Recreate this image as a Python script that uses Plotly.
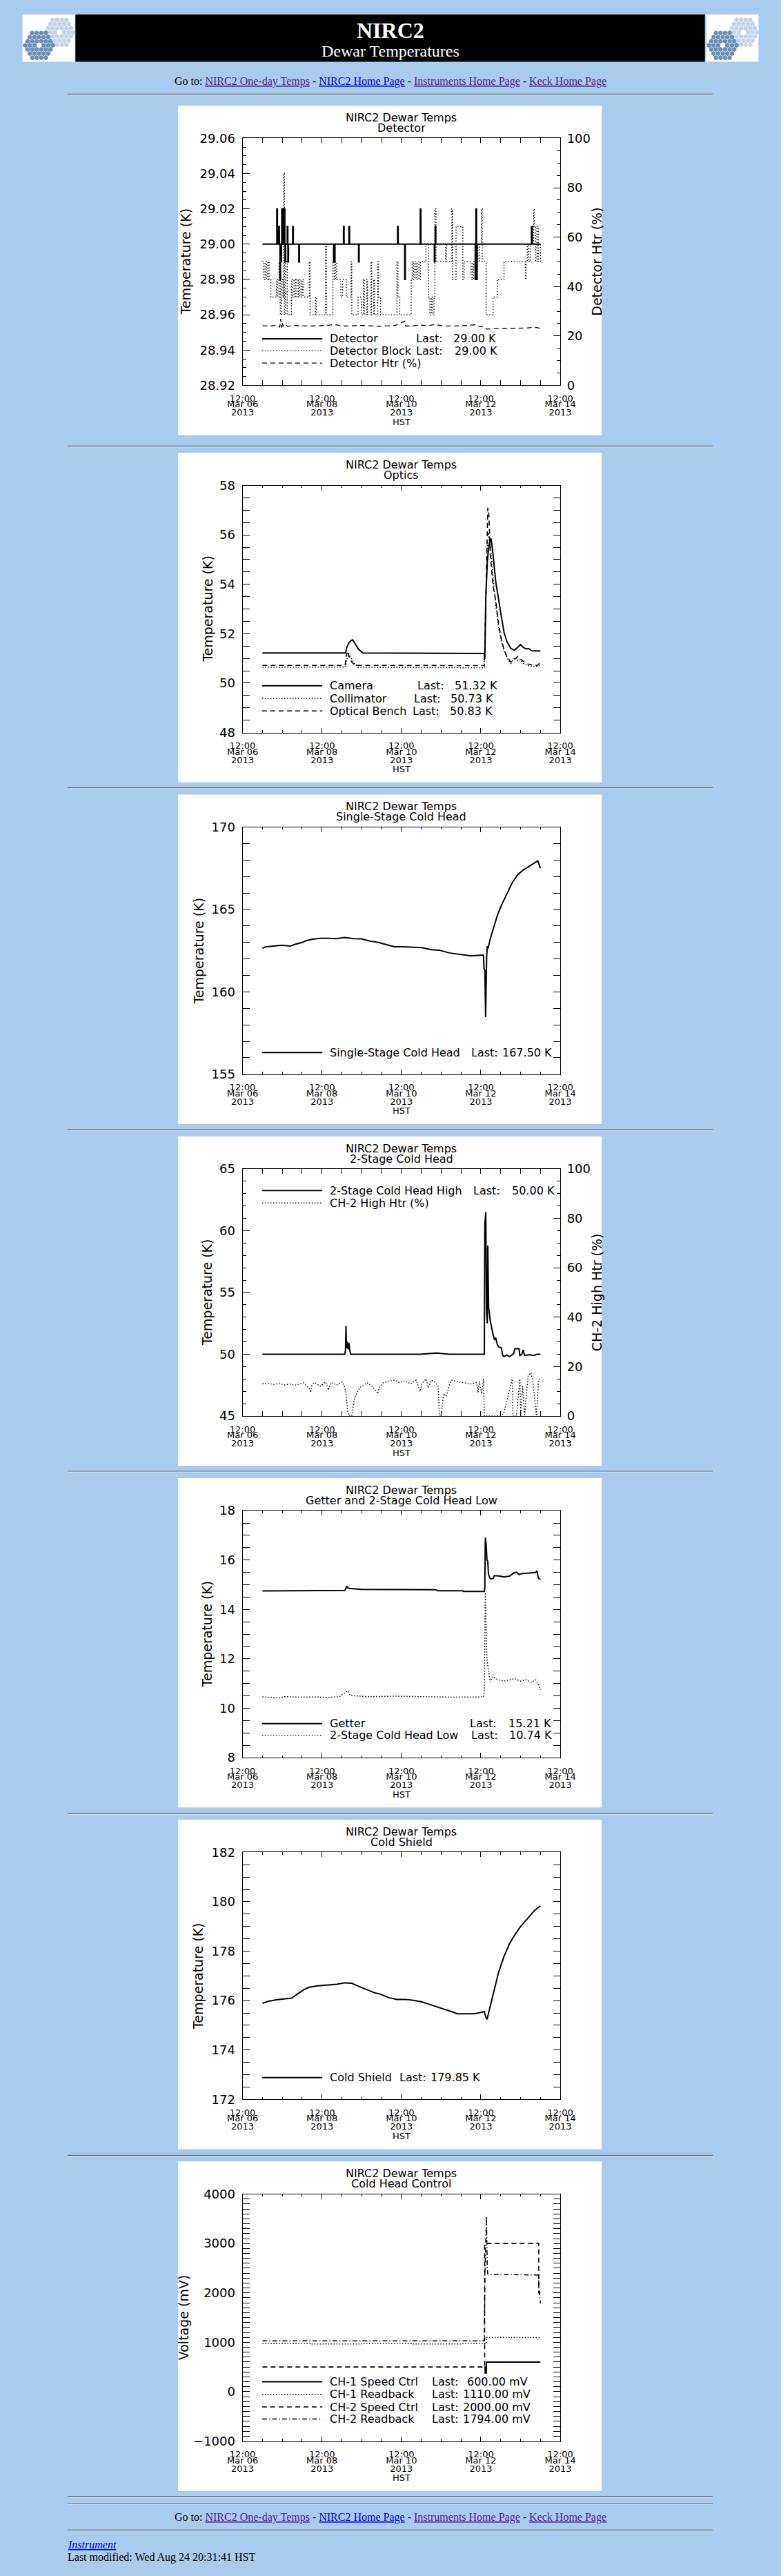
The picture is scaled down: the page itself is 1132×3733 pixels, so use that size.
import pandas as pd
import plotly.graph_objects as go

W, H = 1132, 3733
PAGE_BG = "#A9CCEE"
SANS = "DejaVu Sans"
SERIF = "Liberation Serif"

T0 = pd.Timestamp("2013-03-07 00:00")        # first sample of the 7-day window
X_RANGE = ["2013-03-06 12:00", "2013-03-14 12:00"]

# ---------------- data: hours since T0 and readings ----------------
# Detector: flat at 29.00 K with single-sample excursions
det_base = 29.00
det_spike_h = [8.7, 9.4, 9.9, 10.6, 11.2, 11.7, 12.2, 13.2, 13.7, 15.0, 15.4, 18.3, 22.0, 43.0,
               43.5, 49.0, 52.3, 58.1, 81.7, 86.0, 95.4, 103.9, 104.4, 128.6, 129.0, 129.4, 162.6]
det_spike_v = [29.02, 29.01, 29.01, 28.98, 28.99, 29.02, 29.02, 29.02, 28.99, 29.01, 28.99, 29.01,
               28.99, 28.99, 28.99, 29.01, 29.01, 28.99, 29.01, 28.98, 29.02, 28.99, 29.01, 28.98,
               29.02, 28.98, 29.01]

blk_h = [0.0, 0.8, 1.6, 2.4, 3.2, 4.0, 5.1, 8.4, 9.2, 10.0,
         10.8, 11.6, 12.4, 12.9, 13.3, 14.0, 15.0, 17.5, 18.3, 19.1,
         20.0, 20.8, 21.7, 22.5, 23.3, 24.1, 25.0, 28.3, 28.8, 32.0,
         32.5, 38.2, 38.6, 42.6, 43.4, 44.2, 44.9, 47.4, 48.5, 50.7,
         53.6, 54.0, 57.8, 59.8, 61.0, 61.6, 63.1, 63.5, 65.6, 66.0,
         67.3, 67.7, 69.7, 70.1, 71.4, 81.3, 81.9, 83.0, 89.9, 90.5,
         91.3, 92.1, 92.9, 93.7, 94.6, 95.4, 98.8, 100.4, 101.2, 102.1,
         102.9, 103.7, 104.2, 104.9, 110.7, 111.2, 114.5, 114.9, 117.0, 121.1,
         121.9, 126.1, 127.0, 127.7, 128.6, 129.4, 130.2, 131.1, 132.4, 132.8,
         135.2, 139.4, 141.9, 146.0, 158.9, 159.3, 160.1, 160.9, 161.8, 162.6,
         163.4, 163.9, 164.3, 165.1, 165.9, 166.7, 168.0]
blk_v = [28.99, 28.98, 28.99, 28.98, 28.99, 28.98, 28.97, 28.98, 28.97, 28.99,
         28.96, 28.98, 28.97, 29.04, 28.96, 28.99, 28.96, 28.98, 28.97, 28.98,
         28.97, 28.98, 28.97, 28.98, 28.97, 28.98, 28.97, 28.99, 28.96, 28.97,
         28.96, 29.00, 28.96, 28.99, 28.98, 28.99, 28.98, 28.97, 28.98, 28.97,
         28.99, 28.96, 28.97, 28.96, 28.98, 28.96, 28.98, 28.96, 28.99, 28.96,
         28.98, 28.96, 28.99, 28.97, 28.96, 28.99, 28.97, 28.96, 28.98, 28.99,
         28.98, 28.99, 28.98, 28.99, 28.98, 28.99, 29.00, 28.97, 28.96, 28.97,
         28.96, 28.97, 29.02, 28.99, 29.00, 28.99, 29.02, 28.98, 29.01, 28.98,
         28.99, 28.98, 28.99, 28.98, 28.99, 29.00, 28.99, 29.00, 29.02, 28.99,
         28.96, 28.97, 28.98, 28.99, 28.98, 28.99, 29.00, 28.99, 29.00, 29.01,
         29.00, 29.02, 29.01, 28.99, 29.01, 28.99, 29.00]

htr_h = [0, 5, 9, 10.5, 11, 11.5, 12, 12.5, 13.5, 15, 20, 30, 40, 43, 50, 60, 70, 80, 86, 86.5,
         90, 95, 100, 104, 110, 120, 129, 131, 134, 135.5, 140, 150, 160, 164, 168]
htr_v = [24.1, 24.0, 24.3, 23.5, 26.9, 23.4, 25.5, 23.8, 24.8, 23.9, 24.2, 24.0, 24.3, 24.6, 24.0,
         24.2, 23.9, 24.2, 26.0, 24.0, 24.0, 24.4, 24.1, 24.6, 24.0, 24.1, 24.5, 23.8, 23.9, 22.8,
         22.9, 23.0, 23.2, 23.6, 23.1]

# Optics
cam_h = [0, 50.2, 51.0, 52.2, 53.5, 54.5, 56.0, 58.0, 60.6, 100, 134.1, 134.4, 135.0, 136.0, 137.0,
         138.2, 139.4, 141.0, 142.7, 144.4, 146.0, 147.7, 150.2, 152.3, 154.3, 155.9, 157.6, 159.3,
         160.9, 162.6, 168.0]
cam_v = [51.22, 51.22, 51.45, 51.62, 51.72, 51.75, 51.60, 51.38, 51.22, 51.21, 51.20, 50.97, 53.5,
         55.0, 55.6, 55.85, 55.2, 54.1, 53.35, 52.7, 52.06, 51.69, 51.40, 51.33, 51.45, 51.56,
         51.45, 51.38, 51.40, 51.31, 51.30]
col_h = [0, 50.0, 50.8, 52.2, 53.8, 55.5, 58.0, 100, 134.1, 134.8, 135.6, 136.6, 137.7, 139.4,
         141.0, 142.7, 144.4, 146.0, 147.7, 150.2, 152.6, 154.3, 155.9, 157.6, 160.1, 165.9, 168.0]
col_v = [50.64, 50.65, 50.90, 51.20, 51.00, 50.80, 50.64, 50.62, 50.62, 52.5, 55.0, 56.08, 55.67,
         54.28, 53.17, 52.24, 51.69, 51.31, 51.04, 50.80, 51.04, 50.90, 50.95, 50.80, 50.71, 50.67,
         50.73]
ob_h = [0, 50.0, 50.6, 51.5, 52.5, 54.0, 56.0, 100, 134.1, 134.9, 135.5, 136.2, 136.9, 137.7,
        139.4, 141.0, 142.7, 144.4, 146.0, 147.7, 150.2, 152.6, 154.3, 156.3, 158.4, 160.9, 165.9,
        168.0]
ob_v = [50.72, 50.72, 51.10, 51.30, 51.05, 50.85, 50.72, 50.71, 50.71, 53.0, 55.5, 57.10, 56.78,
        55.2, 53.9, 53.35, 52.4, 51.78, 51.36, 51.08, 50.85, 51.0, 51.08, 50.95, 50.85, 50.76,
        50.71, 50.83]

# Single-stage cold head
ss_h = [0, 1.8, 6.7, 11.7, 16.7, 20.0, 23.3, 26.6, 29.9, 34.9, 39.9, 44.9, 49.8, 54.8, 59.8, 64.8,
        69.7, 74.7, 79.7, 84.7, 91.3, 96.3, 102.1, 107.0, 112.9, 119.5, 126.1, 131.1, 133.6, 133.9,
        134.4, 134.9, 135.2, 135.5, 135.9, 136.4, 137.7, 139.4, 141.9, 144.4, 146.0, 148.5, 151.0,
        154.3, 157.6, 160.9, 164.3, 166.4, 168.0]
ss_v = [162.65, 162.73, 162.78, 162.84, 162.78, 162.90, 162.98, 163.12, 163.19, 163.26, 163.26,
        163.23, 163.31, 163.23, 163.22, 163.09, 163.01, 162.87, 162.74, 162.74, 162.72, 162.69,
        162.56, 162.53, 162.37, 162.28, 162.19, 162.23, 162.23, 161.42, 161.35, 158.47, 160.87,
        162.10, 162.78, 162.65, 163.23, 163.79, 164.62, 165.25, 165.60, 166.15, 166.64, 167.12,
        167.40, 167.61, 167.82, 167.96, 167.51]

# 2-stage cold head high + heater
ch2h_h = [0, 45.6, 49.7, 50.2, 50.5, 50.8, 51.5, 51.8, 52.3, 52.8, 53.3, 95.3, 105.2, 112.9, 134.1,
          134.4, 135.0, 135.4, 135.9, 136.2, 136.7, 137.7, 138.5, 139.4, 140.2, 141.0, 141.9,
          142.7, 144.4, 145.2, 146.0, 147.7, 149.3, 151.8, 152.6, 155.1, 155.6, 156.8, 157.6,
          158.4, 160.9, 164.3, 165.9, 168.0]
ch2h_v = [50.0, 50.0, 50.0, 50.3, 52.3, 50.5, 51.0, 50.4, 50.9, 50.3, 50.0, 50.0, 50.1, 50.0, 50.0,
          60.5, 61.5, 53.6, 52.5, 58.8, 53.8, 52.7, 52.1, 51.6, 51.2, 51.3, 50.8, 50.6, 50.5, 49.9,
          49.8, 49.95, 49.8, 50.05, 50.45, 50.45, 49.9, 50.0, 50.35, 49.9, 49.95, 49.9, 50.0, 50.0]
chh_h = [0, 3.4, 6.7, 10.0, 13.4, 16.7, 20.0, 25.0, 28.3, 29.2, 29.9, 31.6, 34.9, 38.2, 39.9, 41.6,
         44.9, 48.2, 49.8, 50.7, 51.5, 52.3, 54.0, 54.8, 55.6, 57.3, 58.9, 61.4, 63.1, 66.4, 69.7,
         70.6, 73.1, 76.4, 79.7, 83.0, 86.3, 89.6, 92.9, 95.4, 96.3, 98.8, 100.4, 102.1, 104.6,
         106.2, 107.0, 107.9, 108.7, 109.5, 111.2, 112.9, 114.5, 117.9, 121.2, 126.1, 129.4, 130.3,
         131.1, 132.4, 133.6, 134.1, 144.4, 146.0, 151.0, 151.4, 153.5, 155.6, 156.1, 157.3, 158.4,
         160.6, 162.2, 163.4, 165.6, 166.9, 168.0]
chh_v = [13.0, 13.2, 12.8, 13.1, 12.6, 12.9, 12.5, 13.4, 11.0, 9.5, 12.7, 13.5, 12.0, 13.8, 10.5,
         13.6, 12.5, 13.8, 11.5, 8.0, 2.0, 0, 0, 3.0, 7.0, 9.5, 11.5, 12.5, 13.5, 12.0, 9.0, 11.5,
         13.5, 14.0, 14.5, 13.5, 14.3, 13.0, 14.5, 10.0, 13.0, 15.0, 11.5, 14.5, 13.5, 12.0, 0, 0,
         5.0, 9.0, 8.0, 12.5, 14.5, 13.8, 13.5, 13.0, 13.5, 9.5, 14.0, 9.0, 15.0, 0, 0, 1.5, 15.0,
         0, 0, 15.0, 0, 12.0, 0, 16.5, 17.5, 14.0, 0, 14.5, 15.5]

# Getter and 2-stage cold head low
get_h = [0, 20.0, 21.7, 49.8, 51.0, 51.7, 53.0, 56.3, 59.8, 104.6, 106.2, 121.1, 121.5, 134.1,
         134.4, 134.7, 135.2, 135.7, 136.2, 136.6, 137.7, 139.4, 140.2, 143.5, 146.0, 149.3, 151.8,
         153.5, 155.1, 156.8, 159.3, 162.6, 165.1, 165.9, 166.7, 168.0]
get_v = [14.75, 14.75, 14.77, 14.77, 14.94, 14.86, 14.85, 14.83, 14.81, 14.80, 14.76, 14.76, 14.73,
         14.73, 14.90, 16.91, 16.65, 16.00, 15.95, 15.42, 15.24, 15.25, 15.37, 15.35, 15.32, 15.35,
         15.47, 15.51, 15.42, 15.45, 15.47, 15.48, 15.50, 15.56, 15.28, 15.21]
chl_h = [0, 5.1, 10.0, 13.4, 21.7, 29.9, 39.9, 46.5, 51.5, 53.0, 63.1, 79.7, 96.3, 112.9, 133.6,
         134.1, 134.7, 135.2, 135.7, 136.2, 136.9, 137.7, 139.4, 141.0, 142.7, 146.0, 149.3, 152.6,
         155.9, 159.3, 162.6, 165.1, 165.9, 168.0]
chl_v = [10.46, 10.44, 10.42, 10.47, 10.45, 10.46, 10.44, 10.47, 10.71, 10.52, 10.47, 10.49, 10.48,
         10.45, 10.46, 10.70, 14.68, 12.82, 11.99, 11.71, 11.34, 11.06, 11.29, 11.20, 11.15, 11.10,
         11.15, 11.20, 11.10, 11.15, 11.05, 11.15, 11.10, 10.74]

# Cold shield
cs_h = [0, 3.4, 8.4, 13.4, 17.6, 20.0, 25.0, 28.3, 33.3, 39.9, 44.9, 49.8, 54.0, 58.1, 63.1, 68.1,
        71.4, 76.4, 81.3, 86.3, 91.3, 96.3, 101.2, 106.2, 111.2, 114.5, 117.8, 122.8, 127.8, 131.1,
        134.1, 134.9, 135.7, 136.9, 139.4, 142.7, 146.0, 149.3, 152.6, 155.9, 160.1, 164.3, 168.0]
cs_v = [175.89, 175.97, 176.03, 176.07, 176.10, 176.21, 176.44, 176.54, 176.60, 176.63, 176.66,
        176.72, 176.70, 176.58, 176.44, 176.31, 176.26, 176.12, 176.05, 176.05, 176.01, 175.95,
        175.84, 175.73, 175.64, 175.55, 175.47, 175.47, 175.47, 175.51, 175.56, 175.35, 175.24,
        175.56, 176.21, 177.14, 177.79, 178.30, 178.67, 178.99, 179.31, 179.64, 179.84]

# Cold head control (mV)
ch1s_h = [134.1, 134.6, 135.3, 168.0]
ch1s_v = [500, 380, 600, 600]
ch1r_h = [0, 30, 60, 90, 120, 134.1, 135.3, 150, 168.0]
ch1r_v = [975, 965, 975, 968, 972, 975, 1100, 1095, 1105]
ch2s_h = [0, 134.3, 167.0, 168.0]
ch2s_v = [500, 3000, 2000, 2000]
ch2r_h = [0, 134.1, 134.5, 135.4, 135.9, 136.2, 166.8, 167.2, 168.0]
ch2r_v = [1030, 1030, 2400, 3550, 2500, 2380, 2360, 2050, 1790]

NAV_LINKS = ["NIRC2 One-day Temps", "NIRC2 Home Page", "Instruments Home Page", "Keck Home Page"]
NAV_COLORS = ["#551A8B", "#0000EE", "#551A8B", "#551A8B"]

# ---------------- helpers ----------------
SOLID, DOT, DASH, DASHDOT = "solid", "1.5px,2.5px", "7px,5px", "7px,3px,1.5px,3px"
PANEL_TOPS = [143, 649, 1147, 1645, 2143, 2641, 3139]
PX_L, PX_R = 342.5, 822.5
PX_MID = (PX_L + PX_R) / 2


def px(x):
    return x / W


def py(y):
    return 1 - y / H


def when(hours):
    return T0 + pd.to_timedelta(hours, unit="h")


def axname(prefix, n):
    return prefix if n == 1 else f"{prefix}{n}"


fig = go.Figure()


def add_line(n, hours, vals, dash=SOLID, width=2.0, shape="linear", yref=None):
    fig.add_trace(go.Scatter(
        x=when(hours), y=vals, mode="lines",
        line=dict(color="black", width=width, dash=dash, shape=shape),
        xaxis=axname("x", n), yaxis=yref or axname("y", n),
        showlegend=False, hoverinfo="skip"))


# detector series: baseline with spikes
det_h, det_v = [0.0], [det_base]
for h, v in zip(det_spike_h, det_spike_v):
    det_h += [h, h + 0.35]
    det_v += [v, det_base]
det_h.append(168.0)
det_v.append(det_base)

add_line(1, det_h, det_v, SOLID, 2.0, "hv")
add_line(1, blk_h, blk_v, DOT, 1.4, "hv")
add_line(1, htr_h, htr_v, DASH, 1.3, yref="y8")
add_line(2, cam_h, cam_v, SOLID, 2.0)
add_line(2, col_h, col_v, DOT, 1.5)
add_line(2, ob_h, ob_v, DASH, 1.6)
add_line(3, ss_h, ss_v, SOLID, 2.0)
add_line(4, ch2h_h, ch2h_v, SOLID, 2.0)
add_line(4, chh_h, chh_v, DOT, 1.4, yref="y9")
add_line(5, get_h, get_v, SOLID, 2.0)
add_line(5, chl_h, chl_v, DOT, 1.5)
add_line(6, cs_h, cs_v, SOLID, 2.0)
add_line(7, ch1s_h, ch1s_v, SOLID, 2.0, "hv")
add_line(7, ch1r_h, ch1r_v, DOT, 1.5, "hv")
add_line(7, ch2s_h, ch2s_v, DASH, 1.6, "hv")
add_line(7, ch2r_h, ch2r_v, DASHDOT, 1.5)

# panel descriptions: subtitle, y title (and its x centre), scale, legend rows
PANELS = [
    dict(sub="Detector", ytitle="Temperature (K)", ytx=256.6, rng=[28.92, 29.06], dtick=0.02,
         minor=0.005, fmt=".2f",
         right=dict(axis="yaxis8", title="Detector Htr (%)"),
         legend=[(339.7, SOLID, "Detector", 602, "29.00 K", 659),
                 (357.2, DOT, "Detector Block", 602, "29.00 K", 661),
                 (375.0, DASH, "Detector Htr (%)", None, None, None)]),
    dict(sub="Optics", ytitle="Temperature (K)", ytx=289, rng=[48, 58], dtick=2, minor=0.5, fmt="d",
         legend=[(339.3, SOLID, "Camera", 605, "51.32 K", 661),
                 (357.7, DOT, "Collimator", 599, "50.73 K", 655),
                 (376.0, DASH, "Optical Bench", 597, "50.83 K", 654)]),
    dict(sub="Single-Stage Cold Head", ytitle="Temperature (K)", ytx=276, rng=[155, 170], dtick=5,
         minor=1, fmt="d",
         legend=[(375.7, SOLID, "Single-Stage Cold Head", 686, "167.50 K", 733)]),
    dict(sub="2-Stage Cold Head", ytitle="Temperature (K)", ytx=289, rng=[45, 65], dtick=5,
         minor=1, fmt="d",
         right=dict(axis="yaxis9", title="CH-2 High Htr (%)"),
         legend=[(79.0, SOLID, "2-Stage Cold Head High", 689, "50.00 K", 747),
                 (97.0, DOT, "CH-2 High Htr (%)", None, None, None)]),
    dict(sub="Getter and 2-Stage Cold Head Low", ytitle="Temperature (K)", ytx=289, rng=[8, 18],
         dtick=2, minor=0.5, fmt="d",
         legend=[(357.7, SOLID, "Getter", 684, "15.21 K", 742),
                 (375.0, DOT, "2-Stage Cold Head Low", 686, "10.74 K", 743)]),
    dict(sub="Cold Shield", ytitle="Temperature (K)", ytx=276, rng=[172, 182], dtick=2, minor=0.5,
         fmt="d",
         legend=[(375.7, SOLID, "Cold Shield", 577, "179.85 K", 624)]),
    dict(sub="Cold Head Control", ytitle="Voltage (mV)", ytx=253, rng=[-1000, 4000], dtick=1000,
         minor=100, fmt="d",
         legend=[(321.0, SOLID, "CH-1 Speed Ctrl", 626, "600.00 mV", 680),
                 (339.3, DOT, "CH-1 Readback", 626, "1110.00 mV", 673),
                 (357.7, DASH, "CH-2 Speed Ctrl", 626, "2000.00 mV", 673),
                 (375.3, DASHDOT, "CH-2 Readback", 626, "1794.00 mV", 673)]),
]

shapes, anns = [], []


def text(x, y, s, size, anchor="left", color="black", family=SANS, angle=0):
    anns.append(dict(xref="paper", yref="paper", x=px(x), y=py(y), text=s, showarrow=False,
                     xanchor=anchor, yanchor="middle", textangle=angle,
                     font=dict(family=family, size=size, color=color)))


def hline(x0, x1, y, color, width=1, dash="solid"):
    shapes.append(dict(type="line", xref="paper", yref="paper", x0=px(x0), x1=px(x1),
                       y0=py(y), y1=py(y), line=dict(color=color, width=width, dash=dash),
                       layer="above"))


def rect(x0, x1, y0, y1, color):
    shapes.append(dict(type="rect", xref="paper", yref="paper", x0=px(x0), x1=px(x1),
                       y0=py(y1), y1=py(y0), fillcolor=color, line=dict(width=0), layer="below"))


TICKFONT = dict(family=SANS, size=18, color="black")
XFONT = dict(family=SANS, size=13, color="black")
DATE_TICKS = dict(type="date", range=X_RANGE, tick0="2013-03-06 12:00", dtick=2 * 86400000,
                  showgrid=False, zeroline=False, fixedrange=True, tickfont=XFONT)
# the three lines of each date label sit on separate axes so their spacing matches the IDL plot
LABEL_ROWS = [("%b %d", 18), ("%Y", 30)]

layout = {}
extra_x = 10
for n, (P, cfg) in enumerate(zip(PANEL_TOPS, PANELS), start=1):
    rect(245, 885, P, P + 480, "white")
    ydom = [py(P + 407.5), py(P + 47.5)]
    layout[axname("xaxis", n)] = dict(
        DATE_TICKS, domain=[px(PX_L), px(PX_R)], anchor=axname("y", n), tickformat="%H:%M",
        ticks="inside", ticklen=7, tickcolor="black", tickwidth=1, showline=True,
        linecolor="black", linewidth=1, mirror="allticks", ticklabelstandoff=7,
        minor=dict(tick0="2013-03-06 12:00", dtick=43200000, ticks="inside", ticklen=3.6,
                   tickcolor="black", tickwidth=1, showgrid=False))
    for fmt, standoff in LABEL_ROWS:
        layout[f"xaxis{extra_x}"] = dict(
            DATE_TICKS, domain=[px(PX_L), px(PX_R)], anchor=axname("y", n),
            overlaying=axname("x", n), side="bottom", tickformat=fmt, ticks="",
            showline=False, ticklabelstandoff=standoff)
        # an empty trace makes plotly build this label-only axis
        fig.add_trace(go.Scatter(x=X_RANGE, y=[None, None], mode="lines",
                                 xaxis=f"x{extra_x}", yaxis=axname("y", n),
                                 showlegend=False, hoverinfo="skip"))
        extra_x += 1
    has_right = "right" in cfg
    layout[axname("yaxis", n)] = dict(
        domain=ydom, anchor=axname("x", n), range=cfg["rng"], tick0=cfg["rng"][0],
        dtick=cfg["dtick"], tickformat=cfg["fmt"], ticks="inside", ticklen=10, tickcolor="black",
        tickwidth=1, showline=True, linecolor="black", linewidth=1,
        mirror=False if has_right else "allticks", showgrid=False, zeroline=False,
        ticklabelstandoff=6, tickfont=TICKFONT, fixedrange=True,
        minor=dict(tick0=cfg["rng"][0], dtick=cfg["minor"], ticks="inside", ticklen=5,
                   tickcolor="black", tickwidth=1, showgrid=False))
    if has_right:
        layout[cfg["right"]["axis"]] = dict(
            overlaying=axname("y", n), side="right", anchor=axname("x", n), range=[0, 100],
            tick0=0, dtick=20, ticks="inside", ticklen=10, tickcolor="black", tickwidth=1,
            showline=True, linecolor="black", linewidth=1, showgrid=False, zeroline=False,
            ticklabelstandoff=5, tickfont=TICKFONT, fixedrange=True,
            minor=dict(tick0=0, dtick=5, ticks="inside", ticklen=5, tickcolor="black",
                       tickwidth=1, showgrid=False))
        text(878, P + 227.5, cfg["right"]["title"], 19, "center", angle=-90)

    # titles and axis labels
    text(PX_MID, P + 17.5, "NIRC2 Dewar Temps", 16, "center")
    text(PX_MID, P + 32.5, cfg["sub"], 16, "center")
    text(cfg["ytx"], P + 227.5, cfg["ytitle"], 19, "center", angle=-90)
    text(PX_MID, P + 461, "HST", 13, "center")

    # IDL-style legend drawn inside the plot box
    for dy, dash, name, last_x, val, val_x in cfg["legend"]:
        hline(372, 463, P + dy, "black", 2.0 if dash == SOLID else 1.4, dash)
        text(472, P + dy, name, 16)
        if last_x is not None:
            text(last_x, P + dy, "Last:", 16)
            text(val_x, P + dy, val, 16)

# page furniture: header, rules, navigation, footer
rect(90, 1041, 10, 79, "black")
rect(10, 89, 10, 79, "white")
rect(1043, 1122, 10, 79, "white")
text(565.5, 33, "<b>NIRC2</b>", 32, "center", "white", SERIF)
text(565.5, 63, "Dewar Temperatures", 24, "center", "white", SERIF)

for y in [126, 639, 1137, 1635, 2133, 2632, 3130, 3627, 3637, 3676]:
    hline(78, 1053, y, "#5f6670", 1.2)
    hline(78, 1053, y + 1.3, "#d9e3ee", 1)

nav = "Go to: " + " - ".join(
    f'<span style="color:{c};text-decoration:underline">{t}</span>'
    for t, c in zip(NAV_LINKS, NAV_COLORS))
text(566, 108, nav, 16, "center", family=SERIF)
text(566, 3658, nav, 16, "center", family=SERIF)
text(76, 3697, '<i><span style="color:#0000EE;text-decoration:underline">Instrument</span></i>',
     16, family=SERIF)
text(76, 3716, "Last modified: Wed Aug 24 20:31:41 HST", 16, family=SERIF)


# Keck segmented-mirror logos (decoration)
def hex_cells(cx, cy, r=4.0):
    xs, ys = [], []
    for q in range(-3, 4):
        for s in range(-3, 4):
            if (q, s) != (0, 0) and abs(q + s) <= 3:
                xs.append(cx + r * 3 ** 0.5 * (q + s / 2))
                ys.append(cy + r * 1.5 * s)
    return xs, ys


for k, (x0, x1) in enumerate([(10, 89), (1043, 1122)]):
    xa, ya = f"x{8 + k}", f"y{10 + k}"
    layout[f"xaxis{8 + k}"] = dict(domain=[px(x0), px(x1)], range=[0, 79], visible=False,
                                   anchor=ya, fixedrange=True)
    layout[f"yaxis{10 + k}"] = dict(domain=[py(79), py(10)], range=[69, 0], visible=False,
                                    anchor=xa, fixedrange=True)
    for (cx, cy), col in [((56, 26), "#C5D4E4"), ((25, 45), "#6C8FB8")]:
        hx, hy = hex_cells(cx, cy)
        fig.add_trace(go.Scatter(x=hx, y=hy, mode="markers", xaxis=xa, yaxis=ya,
                                 marker=dict(symbol="hexagon", size=7.2, color=col,
                                             line=dict(width=0)),
                                 showlegend=False, hoverinfo="skip"))

fig.update_layout(width=W, height=H, margin=dict(l=0, r=0, t=0, b=0), paper_bgcolor=PAGE_BG,
                  plot_bgcolor="rgba(0,0,0,0)", showlegend=False, shapes=shapes,
                  annotations=anns, **layout)

fig.write_html("out.html", config={"displayModeBar": False},
               post_script="document.body.style.margin='0';"
                           "document.body.style.overflow='hidden';"
                           f"document.body.style.background='{PAGE_BG}';")
